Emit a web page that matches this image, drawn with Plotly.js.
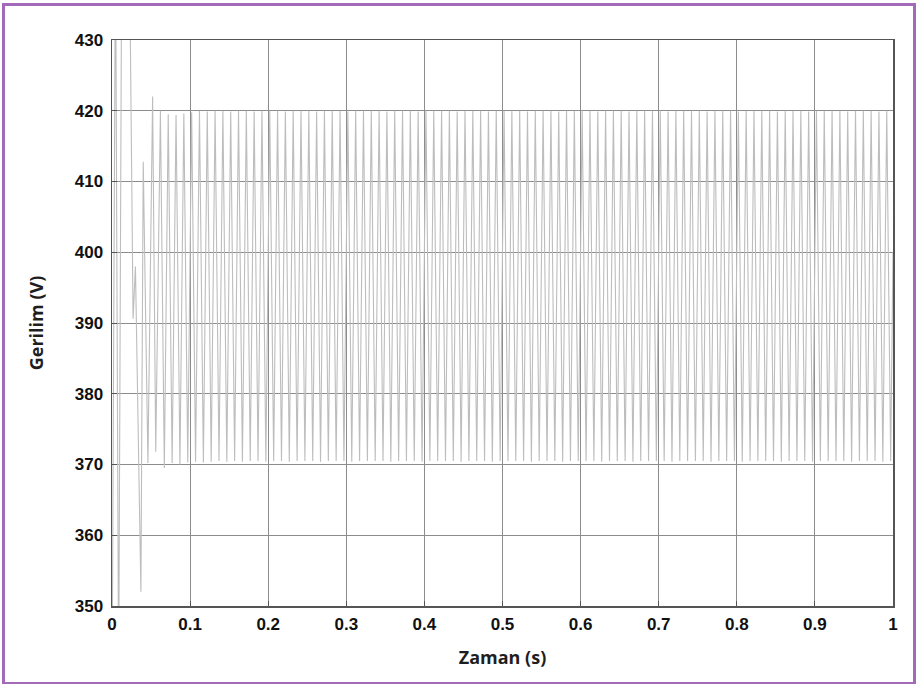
<!DOCTYPE html>
<html>
<head>
<meta charset="utf-8">
<script src="https://cdn.plot.ly/plotly-3.0.1.min.js"></script>
<style>
  html, body { margin: 0; padding: 0; background: #ffffff; }
  #wrap { position: relative; width: 917px; height: 684px; }
  #chart { position: absolute; left: 0; top: 0; width: 917px; height: 684px; }
  #frame { position: absolute; left: 2px; top: 3px; width: 908px; height: 676px;
           border: 3px solid #a36ab9; pointer-events: none; }
</style>
</head>
<body>
<div id="wrap">
  <div id="chart"></div>
  <div id="frame"></div>
</div>
<script>
// Start-up transient of the DC-link voltage (time in s, voltage in V)
const startTime = [0.000, 0.0045, 0.0085, 0.0125, 0.0230, 0.0255, 0.0270, 0.0300, 0.0370, 0.0400, 0.0460, 0.0520, 0.0560];
const startVolt = [335.0, 445.0, 338.0, 445.0, 436.0, 410.5, 390.6, 398.0, 352.0, 412.8, 370.2, 422.0, 371.8];

// Steady-state ripple: one crest and one trough per 10 ms cycle
const crestTime = [0.062,0.072,0.082,0.092,0.102,0.112,0.122,0.132,0.142,0.152,
                   0.162,0.172,0.182,0.192,0.202,0.212,0.222,0.232,0.242,0.252,
                   0.262,0.272,0.282,0.292,0.302,0.312,0.322,0.332,0.342,0.352,
                   0.362,0.372,0.382,0.392,0.402,0.412,0.422,0.432,0.442,0.452,
                   0.462,0.472,0.482,0.492,0.502,0.512,0.522,0.532,0.542,0.552,
                   0.562,0.572,0.582,0.592,0.602,0.612,0.622,0.632,0.642,0.652,
                   0.662,0.672,0.682,0.692,0.702,0.712,0.722,0.732,0.742,0.752,
                   0.762,0.772,0.782,0.792,0.802,0.812,0.822,0.832,0.842,0.852,
                   0.862,0.872,0.882,0.892,0.902,0.912,0.922,0.932,0.942,0.952,
                   0.962,0.972,0.982,0.992];
const crestVolt = [420.0,419.5,419.4,419.6,419.8,420.0,419.9,420.0,420.0,419.9,
                   420.0,420.0,419.9,420.0,420.0,420.0,419.9,420.0,420.0,420.0,
                   419.9,420.0,420.0,420.0,419.9,420.0,420.0,420.0,420.0,419.9,
                   420.0,420.0,420.0,419.9,420.0,420.0,420.0,420.0,419.9,420.0,
                   420.0,420.0,419.9,420.0,420.0,420.0,420.0,419.9,420.0,420.0,
                   420.0,419.9,420.0,420.0,420.0,420.0,419.9,420.0,420.0,420.0,
                   419.9,420.0,420.0,420.0,420.0,419.9,420.0,420.0,420.0,420.0,
                   419.9,420.0,420.0,420.0,419.9,420.0,420.0,420.0,420.0,419.9,
                   420.0,420.0,420.0,419.9,420.0,420.0,420.0,420.0,419.9,420.0,
                   420.0,420.0,419.9,420.0];
const troughTime = [0.067,0.077,0.087,0.097,0.107,0.117,0.127,0.137,0.147,0.157,
                    0.167,0.177,0.187,0.197,0.207,0.217,0.227,0.237,0.247,0.257,
                    0.267,0.277,0.287,0.297,0.307,0.317,0.327,0.337,0.347,0.357,
                    0.367,0.377,0.387,0.397,0.407,0.417,0.427,0.437,0.447,0.457,
                    0.467,0.477,0.487,0.497,0.507,0.517,0.527,0.537,0.547,0.557,
                    0.567,0.577,0.587,0.597,0.607,0.617,0.627,0.637,0.647,0.657,
                    0.667,0.677,0.687,0.697,0.707,0.717,0.727,0.737,0.747,0.757,
                    0.767,0.777,0.787,0.797,0.807,0.817,0.827,0.837,0.847,0.857,
                    0.867,0.877,0.887,0.897,0.907,0.917,0.927,0.937,0.947,0.957,
                    0.967,0.977,0.987,0.997];
const troughVolt = [369.5,370.2,370.0,370.3,370.4,370.3,370.4,370.5,370.4,370.5,
                    370.4,370.5,370.5,370.4,370.5,370.5,370.4,370.5,370.5,370.5,
                    370.4,370.5,370.5,370.5,370.4,370.5,370.5,370.5,370.5,370.4,
                    370.5,370.5,370.5,370.4,370.5,370.5,370.5,370.5,370.4,370.5,
                    370.5,370.5,370.4,370.5,370.5,370.5,370.5,370.4,370.5,370.5,
                    370.5,370.4,370.5,370.5,370.5,370.5,370.4,370.5,370.5,370.5,
                    370.4,370.5,370.5,370.5,370.5,370.4,370.5,370.5,370.5,370.5,
                    370.4,370.5,370.5,370.5,370.4,370.5,370.5,370.5,370.5,370.4,
                    370.5,370.5,370.5,370.4,370.5,370.5,370.5,370.5,370.4,370.5,
                    370.5,370.5,370.4,370.5];
const endTime = [1.000];
const endVolt = [400.0];

const xTicks = [0, 0.1, 0.2, 0.3, 0.4, 0.5, 0.6, 0.7, 0.8, 0.9, 1];
const xTickText = ['0', '0.1', '0.2', '0.3', '0.4', '0.5', '0.6', '0.7', '0.8', '0.9', '1'];
const yTicks = [350, 360, 370, 380, 390, 400, 410, 420, 430];

// Assemble the waveform: transient, then crest/trough pairs, then the tail
const t = startTime.slice();
const v = startVolt.slice();
for (let k = 0; k < crestTime.length; k++) {
  t.push(crestTime[k]); v.push(crestVolt[k]);
  t.push(troughTime[k]); v.push(troughVolt[k]);
}
t.push(...endTime); v.push(...endVolt);

const tickFont = { family: 'Liberation Sans, Arial, sans-serif', size: 17, color: '#111111', weight: 'bold' };
const titleFont = { family: 'Open Sans, Noto Sans, sans-serif', size: 18, color: '#1e1e1e', weight: 700 };

const trace = {
  x: t, y: v, type: 'scatter', mode: 'lines',
  line: { color: '#bdbdbd', width: 1.1 },
  hoverinfo: 'x+y'
};

const layout = {
  width: 917, height: 684,
  margin: { l: 112, r: 24, t: 40, b: 78 },
  paper_bgcolor: '#ffffff', plot_bgcolor: '#ffffff',
  showlegend: false,
  xaxis: {
    range: [0, 1], tickvals: xTicks, ticktext: xTickText,
    showgrid: true, gridcolor: '#8c8c8c', gridwidth: 1,
    zeroline: false, showline: true, linecolor: '#555555', linewidth: 1.5, mirror: true,
    ticks: 'inside', ticklen: 5, tickcolor: '#555555',
    tickfont: tickFont, ticklabelstandoff: 2,
    title: { text: 'Zaman (s)', font: titleFont, standoff: 18 }
  },
  yaxis: {
    range: [350, 430], tickvals: yTicks,
    showgrid: true, gridcolor: '#8c8c8c', gridwidth: 1,
    zeroline: false, showline: true, linecolor: '#555555', linewidth: 1.5, mirror: true,
    ticks: 'inside', ticklen: 5, tickcolor: '#555555',
    tickfont: tickFont, ticklabelstandoff: 4,
    title: { text: 'Gerilim (V)', font: titleFont, standoff: 26 }
  }
};

Plotly.newPlot('chart', [trace], layout, { displayModeBar: false, staticPlot: true });
</script>
</body>
</html>
